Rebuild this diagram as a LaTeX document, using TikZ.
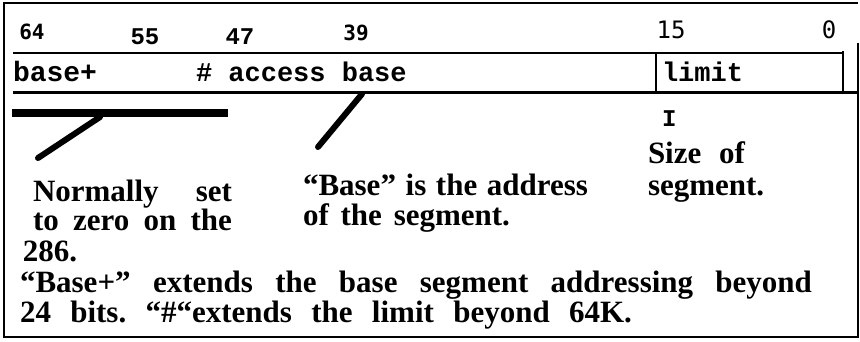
\documentclass[tikz,border=0pt]{standalone}
\usepackage{fontspec}
\setmainfont{Liberation Serif}
\newfontfamily\cmono{Liberation Mono}
\newfontfamily\dmono{DejaVu Sans Mono}
\frenchspacing
\begin{document}
\begin{tikzpicture}[x=1pt,y=-1pt,
  lbl/.style={anchor=base west,inner sep=0pt,outer sep=0pt,font=\bfseries\fontsize{31}{33}\selectfont},
  field/.style={anchor=base west,inner sep=0pt,outer sep=0pt,font=\cmono\bfseries\fontsize{28}{30}\selectfont},
  bitnum/.style={anchor=base,inner sep=0pt,outer sep=0pt,font=\cmono\bfseries\fontsize{24}{26}\selectfont},
  bitnumb/.style={anchor=base,inner sep=0pt,outer sep=0pt,font=\dmono\bfseries\fontsize{21}{23}\selectfont},
  bitnumr/.style={anchor=base,inner sep=0pt,outer sep=0pt,font=\dmono\fontsize{24}{26}\selectfont},
  rule/.style={line width=2pt},
  pointer/.style={line width=6pt,line cap=round}]
\useasboundingbox (0,0) rectangle (860,341);
% frame
\draw[rule] (858,43) -- (858,337) -- (4,337) -- (4,3) -- (858,3);
\draw[line width=2pt] (13,53) -- (843,53);
\draw[line width=3pt] (13,92) -- (858,92);
\draw[line width=2.5pt] (656,53) -- (656,92);
\draw[line width=2.5pt] (843,51) -- (843,92);
% bit numbers
\node[bitnumb] (b64) at (32,39) {64};
\node[bitnum] (b55) at (145,44) {55};
\node[bitnum] (b47) at (240,44) {47};
\node[bitnumb] (b39) at (356,40) {39};
\node[bitnumr] (b15) at (671,38) {15};
\node[bitnumr] (b0) at (829,38) {0};
% fields
\node[field] (fbplus) at (13,81) {base+};
\node[field,font=\cmono\bfseries\fontsize{27}{29}\selectfont] (fbase) at (196,81) {\#\ access base};
\node[field,font=\cmono\bfseries\fontsize{27}{29}\selectfont] (flimit) at (662,81) {limit};
% bar and pointers
\coordinate (barL) at (12,113);
\coordinate (barR) at (228,113);
\draw[line width=8pt] (barL) -- (barR);
\coordinate (p1a) at (100,117);
\coordinate (p1b) at (38,158);
\draw[pointer] (p1a) -- (p1b);
\coordinate (p2a) at (362,94);
\coordinate (p2b) at (318,147);
\draw[pointer] (p2a) -- (p2b);
\node[anchor=base west,inner sep=0pt,font=\cmono\bfseries\fontsize{24}{26}\selectfont] (iI) at (662,126) {I};
% texts
\node[lbl] (t1) at (33,201) {\makebox[199pt][s]{Normally set}};
\node[lbl] (t2) at (33,230) {\makebox[199pt][s]{to zero on the}};
\node[lbl] (t3) at (23,261) {286.};
\node[lbl] (t4) at (20,292) {\makebox[792pt][s]{“Base+” extends the base segment addressing beyond}};
\node[lbl] (t5) at (20,322) {\makebox[612pt][s]{24 bits. “\#“extends the limit beyond 64K.}};
\node[lbl] (t6) at (303,195) {\makebox[285pt][s]{“Base” is the address}};
\node[lbl] (t7) at (303,225) {\makebox[207pt][s]{of the segment.}};
\node[lbl] (t8) at (648,163) {\makebox[97pt][s]{Size of}};
\node[lbl] (t9) at (648,195) {segment.};
\end{tikzpicture}
\end{document}
